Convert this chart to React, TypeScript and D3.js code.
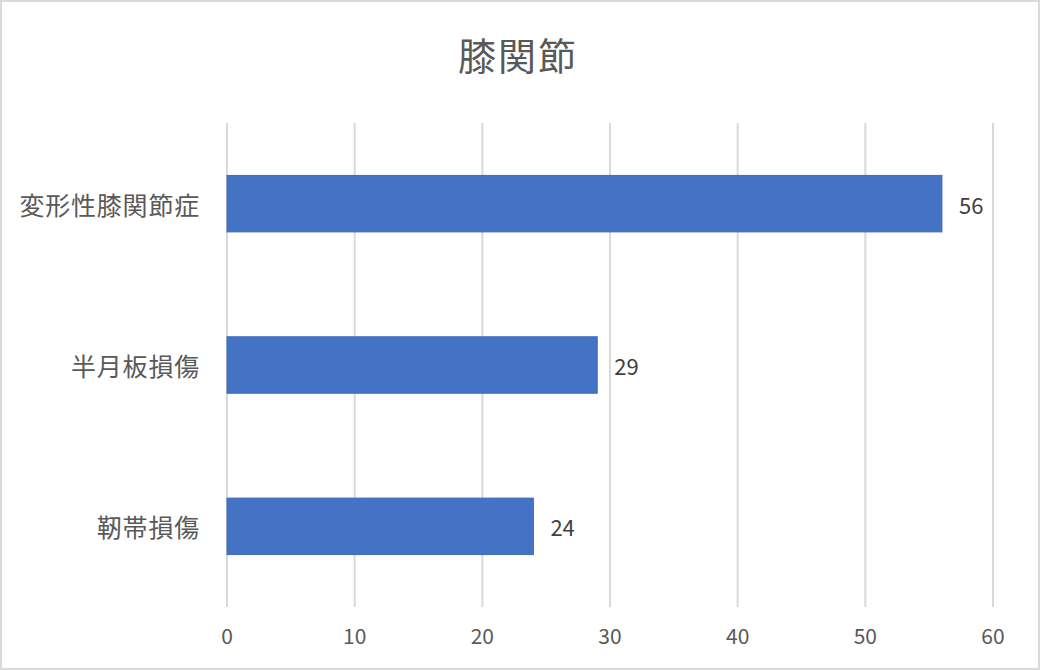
import React from 'react';
import * as d3 from 'd3';

const title = '膝関節';
const categories = ['変形性膝関節症', '半月板損傷', '靭帯損傷'];
const values = [56, 29, 24];
const xTicks = [0, 10, 20, 30, 40, 50, 60];

const W = 1040;
const H = 670;
const margin = { top: 123, right: 47, bottom: 63, left: 227 };
const FONT = '"Noto Sans CJK JP", "Noto Sans", sans-serif';

const App: React.FC = () => {
  const x = d3.scaleLinear().domain([0, 60]).range([margin.left, W - margin.right]);
  const y = d3.scaleBand<string>()
    .domain(categories)
    .range([margin.top, H - margin.bottom])
    .paddingInner(0.65)
    .paddingOuter(0.325);

  return (
    <svg width={W} height={H} style={{ position: 'absolute', left: 0, top: 0 }} fontFamily={FONT}>
      <rect x={1} y={1} width={W - 2} height={H - 2} fill="#fff" stroke="#d9d9d9" strokeWidth={2} />
      <text x={W / 2 - 2} y={53} textAnchor="middle" dominantBaseline="central" fontSize={38} letterSpacing={2} fill="#595959">
        {title}
      </text>
      {xTicks.map(t => (
        <g key={t}>
          <line x1={x(t)} x2={x(t)} y1={margin.top} y2={H - margin.bottom} stroke="#d9d9d9" strokeWidth={2} />
          <text x={x(t)} y={635} textAnchor="middle" dominantBaseline="central" fontSize={21} fill="#595959">
            {t}
          </text>
        </g>
      ))}
      {categories.map((c, i) => {
        const yc = (y(c) ?? 0) + y.bandwidth() / 2;
        return (
          <g key={c}>
            <rect x={x(0)} y={y(c)} width={x(values[i]) - x(0)} height={y.bandwidth()} fill="#4472c4" stroke="#3f6cbd" strokeWidth={1} />
            <text x={200} y={yc} textAnchor="end" dominantBaseline="central" fontSize={25} letterSpacing={0.8} fill="#595959">
              {c}
            </text>
            <text x={x(values[i]) + 17} y={yc} dominantBaseline="central" fontSize={22} fill="#404040">
              {values[i]}
            </text>
          </g>
        );
      })}
    </svg>
  );
};

export default App;
